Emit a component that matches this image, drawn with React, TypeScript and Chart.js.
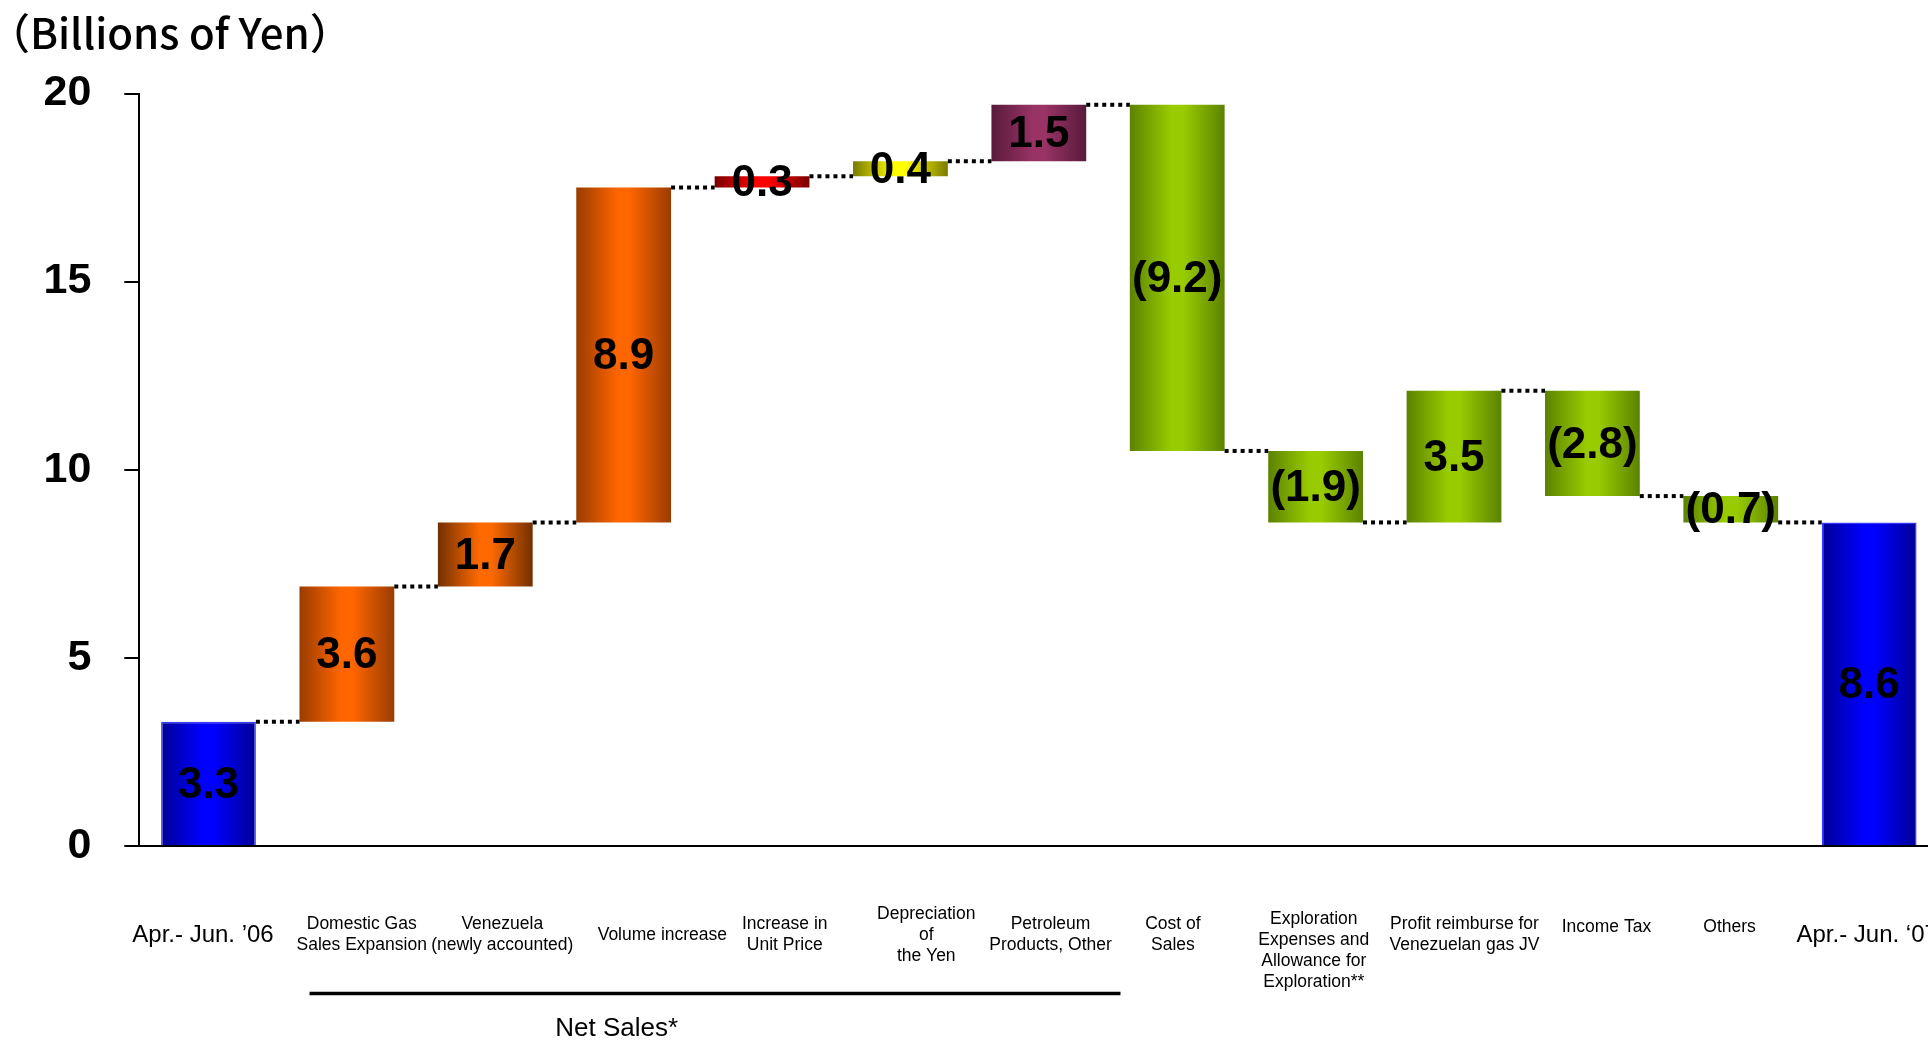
import React, { useEffect, useRef } from 'react';
import { Chart, registerables } from 'chart.js';

Chart.register(...registerables);

// ---- data ----
const categories: (string | string[])[] = [
  'Apr.- Jun. ’06',
  ['Domestic Gas', 'Sales Expansion'],
  ['Venezuela', '(newly accounted)'],
  'Volume increase',
  ['Increase in', 'Unit Price'],
  ['Depreciation', 'of', 'the Yen'],
  ['Petroleum', 'Products, Other'],
  ['Cost of', 'Sales'],
  ['Exploration', 'Expenses and', 'Allowance for', 'Exploration**'],
  ['Profit reimburse for', 'Venezuelan gas JV'],
  'Income Tax',
  'Others',
  'Apr.- Jun. ‘07',
];

const barStart = [0, 3.3, 6.9, 8.6, 17.5, 17.8, 18.2, 19.7, 10.5, 8.6, 12.1, 9.3, 0];
const barEnd = [3.3, 6.9, 8.6, 17.5, 17.8, 18.2, 19.7, 10.5, 8.6, 12.1, 9.3, 8.6, 8.6];
const valueLabels = ['3.3', '3.6', '1.7', '8.9', '0.3', '0.4', '1.5', '(9.2)', '(1.9)', '3.5', '(2.8)', '(0.7)', '8.6'];
const barColorKeys = ['blue', 'orange', 'orangeDark', 'orange', 'red', 'yellow', 'purple', 'green', 'green', 'green', 'green', 'green', 'blue'];
const yTicks = [0, 5, 10, 15, 20];
const titleText = '（Billions of Yen）';
const groupLabel = 'Net Sales*';

// ---- styles ----
const palette: Record<string, [string, string]> = {
  blue: ['#000096', '#0000ff'],
  orange: ['#9a3c00', '#ff6600'],
  orangeDark: ['#723000', '#ff6a00'],
  red: ['#7a0000', '#ff0000'],
  yellow: ['#7a7a00', '#ffff00'],
  purple: ['#581a3a', '#993366'],
  green: ['#5c8200', '#99cc00'],
};
// per-label nudges (px) of the category tick labels
const labelDx = [-5.5, 14.8, 17, 38.7, 22.7, 25.8, 11.7, -4.3, -1.8, 10.5, 14, -1.2, -2];
const labelDy = [4, 0, 0, 0, 0, 0, 0, 0, 15.5, 0, -7.5, -7.5, 4];
const BAR_PCT = 0.685;
const SHIFT = 12; // canvas is shifted left by this much
const SANS = '"Liberation Sans", Arial, Helvetica, sans-serif';

const labelShiftPlugin = {
  id: 'labelShift',
  beforeDraw(chart: any) {
    const xs = chart.scales.x;
    if (!xs || !xs.getLabelItems) return;
    const items = xs.getLabelItems();
    items.forEach((it: any, k: number) => {
      if (it._shifted) return;
      const t = it.options.translation;
      it.options.translation = [t[0] + (labelDx[k] || 0), t[1] + (labelDy[k] || 0)];
      it._shifted = true;
    });
  },
};

const decorPlugin = {
  id: 'waterfallDecor',
  afterDatasetsDraw(chart: any) {
    const meta = chart.getDatasetMeta(0);
    const ys = chart.scales.y;
    const xs = chart.scales.x;
    const ctx = chart.ctx as CanvasRenderingContext2D;
    const bars = meta.data.map((b: any) => b.getProps(['x', 'y', 'base', 'width'], true));
    ctx.save();
    // dotted connectors
    ctx.strokeStyle = '#000';
    ctx.lineWidth = 4;
    ctx.setLineDash([4, 4]);
    for (let i = 0; i < bars.length - 1; i++) {
      const a = bars[i];
      const b = bars[i + 1];
      const y = ys.getPixelForValue(barEnd[i]);
      ctx.beginPath();
      ctx.moveTo(a.x + a.width / 2, y);
      ctx.lineTo(b.x - b.width / 2, y);
      ctx.stroke();
    }
    ctx.setLineDash([]);
    // value labels
    ctx.fillStyle = '#000';
    ctx.font = `bold 44px ${SANS}`;
    ctx.textAlign = 'center';
    ctx.textBaseline = 'middle';
    bars.forEach((b: any, i: number) => {
      ctx.fillText(valueLabels[i], b.x, (b.y + b.base) / 2 + 2);
    });
    // Net Sales bracket
    const bottom = chart.chartArea.bottom;
    ctx.lineWidth = 3.5;
    ctx.beginPath();
    ctx.moveTo(xs.getPixelForValue(0.73), bottom + 147.5);
    ctx.lineTo(xs.getPixelForValue(6.59), bottom + 147.5);
    ctx.stroke();
    ctx.font = `26px ${SANS}`;
    ctx.fillText(groupLabel, xs.getPixelForValue(2.95), bottom + 183);
    ctx.restore();
  },
};

export default function App() {
  const ref = useRef<HTMLCanvasElement>(null);
  useEffect(() => {
    if (!ref.current) return;
    const chart = new Chart(ref.current, {
      type: 'bar',
      data: {
        labels: categories as any,
        datasets: [
          {
            data: barStart.map((s, i) => [s, barEnd[i]]) as any,
            barPercentage: BAR_PCT,
            categoryPercentage: 1,
            backgroundColor: (c: any) => {
              const [edge, mid] = palette[barColorKeys[c.dataIndex]] || ['#999', '#ccc'];
              const xs = c.chart.scales?.x;
              if (c.type !== 'data' || !xs || !xs.width) return mid;
              const center = xs.getPixelForValue(c.dataIndex);
              const half = ((xs.width / categories.length) * BAR_PCT) / 2;
              const g = c.chart.ctx.createLinearGradient(center - half, 0, center + half, 0);
              g.addColorStop(0, edge);
              g.addColorStop(0.44, mid);
              g.addColorStop(0.56, mid);
              g.addColorStop(1, edge);
              return g;
            },
            borderColor: '#3a3aff',
            borderWidth: (c: any) => (barColorKeys[c.dataIndex] === 'blue' ? 1.5 : 0),
            borderSkipped: 'start',
          } as any,
        ],
      },
      options: {
        responsive: false,
        maintainAspectRatio: false,
        animation: false,
        layout: { padding: { left: 0, right: 3.2, top: 0, bottom: 0 } },
        plugins: {
          legend: { display: false },
          tooltip: { enabled: false },
          title: {
            display: true,
            text: titleText,
            align: 'start',
            color: '#000',
            font: { family: '"Noto Sans CJK JP", "Noto Sans", sans-serif', size: 42, weight: 500, lineHeight: 1.2 },
            padding: { top: 8.2, bottom: 34.9 },
          },
        },
        scales: {
          x: {
            z: 1,
            grid: { display: true, drawOnChartArea: false, drawTicks: true, tickLength: 54.5, color: 'rgba(0,0,0,0)' },
            border: { display: true, color: '#000', width: 2 },
            ticks: {
              color: '#000',
              padding: 3,
              crossAlign: 'center',
              maxRotation: 0,
              minRotation: 0,
              autoSkip: false,
              font: (c: any) =>
                c.index === 0 || c.index === categories.length - 1
                  ? { family: SANS, size: 24, lineHeight: 1.2 }
                  : { family: SANS, size: 17.5, lineHeight: 1.2 },
            },
            afterFit: (s: any) => {
              s.height = 196;
            },
          } as any,
          y: {
            min: 0,
            max: 20,
            afterBuildTicks: (s: any) => {
              s.ticks = yTicks.map((v) => ({ value: v }));
            },
            grid: { display: true, drawOnChartArea: false, drawTicks: true, tickLength: 15, color: '#000', lineWidth: 2 },
            border: { display: true, color: '#000', width: 2 },
            ticks: {
              color: '#000',
              padding: 33,
              font: { family: SANS, size: 43, weight: 'bold' },
            },
            afterFit: (s: any) => {
              s.width = 139.3 + SHIFT;
            },
          } as any,
        },
      },
      plugins: [labelShiftPlugin, decorPlugin],
    });
    return () => chart.destroy();
  }, []);

  return (
    <div
      style={{
        position: 'absolute',
        left: 0,
        top: 0,
        width: 1928,
        height: 1042,
        overflow: 'hidden',
        background: '#fff',
      }}
    >
      <canvas
        ref={ref}
        width={1943 + SHIFT}
        height={1042}
        style={{ display: 'block', width: 1943 + SHIFT, height: 1042, marginLeft: -SHIFT }}
      />
    </div>
  );
}
